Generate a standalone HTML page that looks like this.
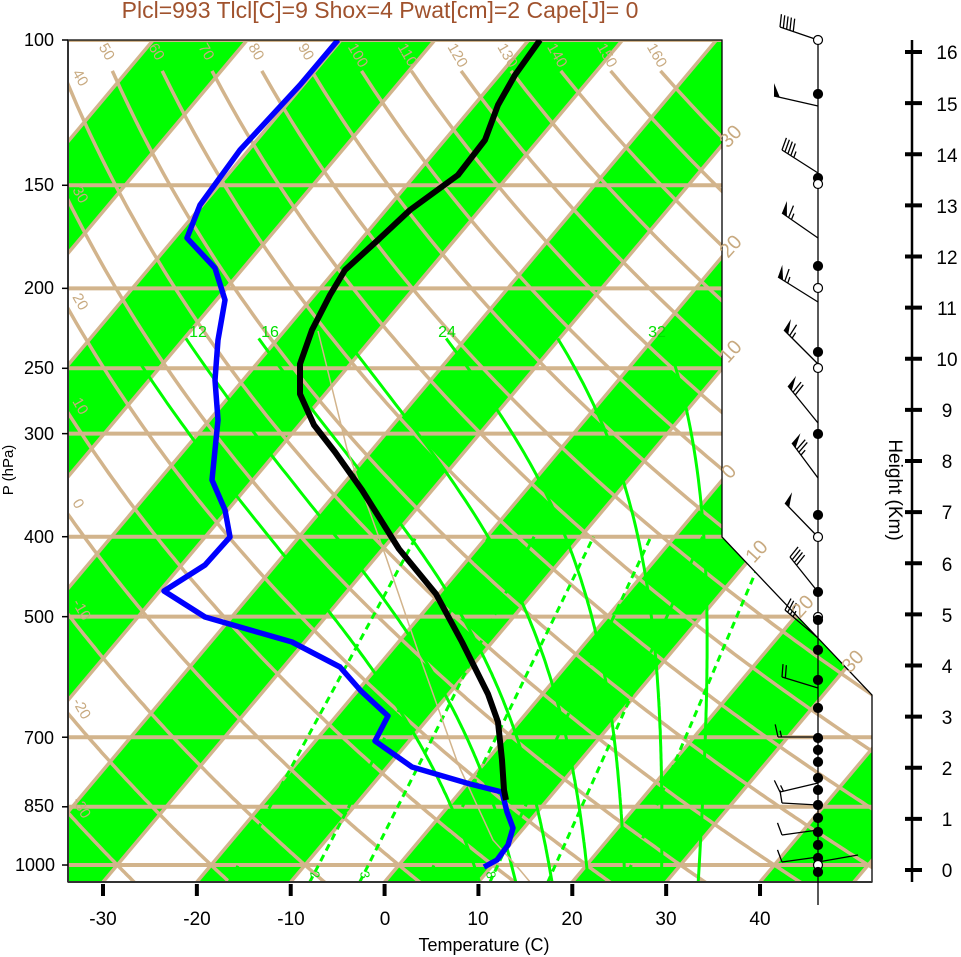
<!DOCTYPE html>
<html><head><meta charset="utf-8"><style>body{margin:0;background:#fff}svg{display:block;font-family:"Liberation Sans",sans-serif}</style></head>
<body>
<svg id="s" width="961" height="957" xmlns="http://www.w3.org/2000/svg">
<defs><clipPath id="c"><polygon points="68,40 722,40 722,537 872,695 872,882 68,882"/></clipPath></defs>
<rect width="961" height="957" fill="#fff"/>
<g id="bg" clip-path="url(#c)"></g>
<g id="fg" clip-path="url(#c)"></g>
<polygon points="68,40 722,40 722,537 872,695 872,882 68,882" fill="none" stroke="#000" stroke-width="1.3"/>
<line x1="68" y1="40" x2="68" y2="882" stroke="#333" stroke-width="2"/>
<line x1="68" y1="882" x2="872" y2="882" stroke="#333" stroke-width="2"/>
<g id="ticks"></g>
<g id="wind"></g>
<text x="380" y="18" text-anchor="middle" font-size="23" fill="#a0522d">Plcl=993 Tlcl[C]=9 Shox=4 Pwat[cm]=2 Cape[J]= 0</text>
<g font-size="18" text-anchor="end" fill="#000">
<text x="54" y="46">100</text><text x="54" y="191">150</text><text x="54" y="294">200</text><text x="54" y="374">250</text><text x="54" y="440">300</text><text x="54" y="543">400</text><text x="54" y="623">500</text><text x="54" y="744">700</text><text x="54" y="812">850</text><text x="55" y="871">1000</text>
</g>
<text transform="translate(13,470) rotate(-90)" text-anchor="middle" font-size="15">P (hPa)</text>
<g font-size="19" text-anchor="middle">
<text x="103" y="925">-30</text><text x="197" y="925">-20</text><text x="291" y="925">-10</text><text x="385" y="925">0</text><text x="478" y="925">10</text><text x="572" y="925">20</text><text x="666" y="925">30</text><text x="760" y="925">40</text>
</g>
<text x="484" y="951" text-anchor="middle" font-size="18">Temperature (C)</text>
<text transform="translate(889,490) rotate(90)" text-anchor="middle" font-size="19">Height (Km)</text>
<g font-size="19" text-anchor="middle">
<text x="947" y="877">0</text><text x="947" y="826">1</text><text x="947" y="775">2</text><text x="947" y="724">3</text><text x="947" y="673">4</text><text x="947" y="622">5</text><text x="947" y="571">6</text><text x="947" y="519">7</text><text x="947" y="468">8</text><text x="947" y="417">9</text><text x="947" y="366">10</text><text x="947" y="315">11</text><text x="947" y="264">12</text><text x="947" y="213">13</text><text x="947" y="162">14</text><text x="947" y="111">15</text><text x="947" y="59">16</text>
</g>
<g id="tlab" font-size="15" fill="#c8aa80">
<text id="d-30">-30</text><text id="d-20">-20</text><text id="d-10">-10</text><text id="d0">0</text><text id="d10">10</text><text id="d20">20</text><text id="d30">30</text><text id="d40">40</text><text id="d50">50</text><text id="d60">60</text><text id="d70">70</text><text id="d80">80</text><text id="d90">90</text><text id="d100">100</text><text id="d110">110</text><text id="d120">120</text><text id="d130">130</text><text id="d140">140</text><text id="d150">150</text><text id="d160">160</text>
</g>
<g font-size="20" fill="#c8aa80">
<text transform="translate(728,149) rotate(-48)">30</text>
<text transform="translate(728,259) rotate(-48)">20</text>
<text transform="translate(728,364) rotate(-48)">10</text>
<text transform="translate(730,480) rotate(-48)">0</text>
<text transform="translate(754,564) rotate(-48)">10</text>
<text transform="translate(800,619) rotate(-48)">20</text>
<text transform="translate(850,674) rotate(-48)">30</text>
</g>
<g font-size="16" fill="#00e000" text-anchor="middle">
<text x="198" y="337">12</text><text x="270" y="337">16</text><text x="447" y="337">24</text><text x="657" y="337">32</text>
</g>
<g font-size="13" fill="#00e000">
<text transform="translate(310,872) rotate(80)">2</text>
<text transform="translate(360,872) rotate(80)">3</text>
<text transform="translate(486,872) rotate(80)">8</text>
</g>
</svg>
<script>
var NS="http://www.w3.org/2000/svg";
var Y=function(p){return 40+358.3*Math.log(p/100);};
var S=0.84;
var XB=function(T,y){return 384.6+9.386*T+S*(882-y);};
var X=function(T,p){return XB(T,Y(p));};
function add(g,tag,a){var e=document.createElementNS(NS,tag);for(var k in a)e.setAttribute(k,a[k]);g.appendChild(e);return e;}
function pth(pts){return 'M'+pts.map(function(a){return a[0].toFixed(1)+','+a[1].toFixed(1);}).join('L');}
var bg=document.getElementById('bg'),fg=document.getElementById('fg');
var TAN="#d2b48c",GR="#00ff00";
for(var T=-180;T<=60;T+=20){
 add(bg,'polygon',{points:[XB(T,882)+',882',XB(T+10,882)+',882',XB(T+10,40)+',40',XB(T,40)+',40'].join(' '),fill:GR});
}
for(var T=-180;T<=70;T+=10){add(bg,'line',{x1:XB(T,882),y1:882,x2:XB(T,40),y2:40,stroke:TAN,'stroke-width':3.5});}
[100,150,200,250,300,400,500,700,850,1000].forEach(function(p){add(bg,'line',{x1:68,y1:Y(p),x2:872,y2:Y(p),stroke:TAN,'stroke-width':4});
 add(document.getElementById('ticks'),'line',{x1:62,y1:Y(p),x2:68,y2:Y(p),stroke:'#000','stroke-width':1.5});});
function Td(th,p){return (th+273.15)*Math.pow(p/1000,0.2857)-273.15;}
for(var th=-30;th<=160;th+=10){
 var pts=[];for(var p=1050;p>=109;p-=5)pts.push([X(Td(th,p),p),Y(p)]);
 pts.push([X(Td(th,109),109),Y(109)]);
 add(bg,'path',{d:pth(pts),fill:'none',stroke:TAN,'stroke-width':3.5});
 var lab=document.getElementById('d'+th);
 if(th>=50){var x=X(Td(th,109),109),y=Y(109);lab.setAttribute('transform','translate('+(x-14)+','+(y-24)+') rotate(60)');}
 else{var yy=882;for(var p=1050;p>=109;p-=1){if(X(Td(th,p),p)<70){yy=Y(p);break;}}
  lab.setAttribute('transform','translate(72,'+(yy-14)+') rotate(60)');}
}
function es(Tc){return 6.112*Math.exp(17.67*Tc/(Tc+243.5));}
function dTdp(T,p){var e=es(T-273.15),rs=0.622*e/(p-e);return (287*T+2.5e6*rs)/(p*(1004+2.5e6*2.5e6*rs*0.622/(287*T*T)));}
for(var tw=8;tw<=32;tw+=4){
 var T=tw+273.15,p=1000,up=[];
 var T2=T;for(var q=1000;q<1050;q+=1){T2+=dTdp(T2,q)*1;}
 up.push([X(T2-273.15,1050),Y(1050)]);
 while(p>=230){up.push([X(T-273.15,p),Y(p)]);T+=dTdp(T,p)*(-1);p-=1;}
 add(fg,'path',{d:pth(up.filter(function(a,i){return i%5==0||i==up.length-1;})),fill:'none',stroke:GR,'stroke-width':3});
}
[1,2,3,5,8,12,20].forEach(function(w){
 function Tw(p){var e=w*p/(622+w),l=Math.log(e/6.112);return 243.5*l/(17.67-l);}
 add(fg,'line',{x1:X(Tw(1050),1050),y1:Y(1050),x2:X(Tw(400),400),y2:Y(400),stroke:GR,'stroke-width':3,'stroke-dasharray':'7,5'});
});
add(fg,'path',{d:pth([[318,331],[347,449],[386,557],[421,660],[458,764],[493,840],[520,870],[530,882]]),fill:'none',stroke:TAN,'stroke-width':1.5});
var td=[[338,40],[300,85],[240,150],[200,205],[187,238],[215,268],[225,300],[218,340],[215,380],[218,420],[212,480],[225,510],[230,537],[205,565],[164,591],[205,617],[292,642],[340,667],[361,691],[388,716],[375,741],[412,767],[470,784],[502,792],[507,812],[513,828],[508,845],[497,860],[484,867]];
add(fg,'path',{d:pth(td),fill:'none',stroke:'#0000ff','stroke-width':5.5,'stroke-linejoin':'round'});
var tt=[[540,40],[515,75],[498,105],[485,140],[458,175],[410,210],[378,240],[345,270],[330,295],[312,330],[300,364],[300,394],[314,425],[335,452],[362,490],[399,549],[436,594],[462,642],[488,694],[498,722],[502,760],[504,790],[506,800]];
add(fg,'path',{d:pth(tt),fill:'none',stroke:'#000','stroke-width':6,'stroke-linejoin':'round'});
var tk=document.getElementById('ticks');
add(tk,'line',{x1:912,y1:40,x2:912,y2:882,stroke:'#000','stroke-width':2.5});
for(var k=0;k<=16;k++){var y=870-51.125*k;add(tk,'line',{x1:905,y1:y,x2:922,y2:y,stroke:'#000','stroke-width':4});}
for(var k=0;k<8;k++){var x=103+93.86*k;add(tk,'line',{x1:x,y1:884,x2:x,y2:896,stroke:'#000','stroke-width':4});}
var wd=document.getElementById('wind');
add(wd,'line',{x1:818,y1:40,x2:818,y2:905,stroke:'#000','stroke-width':1.3});
function barb(x0,y0,x1,y1,fl,fu,ha){
 add(wd,'line',{x1:x0,y1:y0,x2:x1,y2:y1,stroke:'#000','stroke-width':1.3});
 var L=Math.hypot(x1-x0,y1-y0),ux=(x1-x0)/L,uy=(y1-y0)/L;
 var nx=-uy,ny=ux; if(ny>0){nx=-nx;ny=-ny;}
 var fx=14*(nx*0.9+ux*0.2),fy=14*(ny*0.9+uy*0.2);
 var px=x1,py=y1;
 for(var i=0;i<fl;i++){add(wd,'polygon',{points:px+','+py+' '+(px+fx)+','+(py+fy)+' '+(px-ux*6)+','+(py-uy*6),fill:'#000'});px-=ux*8;py-=uy*8;}
 for(var i=0;i<fu;i++){add(wd,'line',{x1:px,y1:py,x2:px+fx,y2:py+fy,stroke:'#000','stroke-width':1.3});px-=ux*3.5;py-=uy*3.5;}
 for(var i=0;i<ha;i++){add(wd,'line',{x1:px,y1:py,x2:px+fx/2,y2:py+fy/2,stroke:'#000','stroke-width':1.3});}
}
barb(818,40,780,27,0,5,0);barb(818,106,774,96,1,0,0);barb(818,173,782,150,0,4,1);
barb(818,238,782,213,1,1,1);barb(818,302,778,277,1,1,1);barb(818,364,784,330,1,1,1);
barb(818,423,788,386,1,2,0);barb(818,478,792,443,1,2,1);barb(818,537,785,503,1,0,0);
barb(818,592,790,557,0,4,0);barb(818,638,785,610,0,3,1);barb(818,688,782,677,0,2,0);
barb(818,737,778,737,0,1,1);barb(818,783,780,792,0,1,1);barb(818,805,782,803,0,1,0);
barb(818,830,782,835,0,1,0);barb(818,857,782,862,0,1,0);
add(wd,'line',{x1:818,y1:862,x2:858,y2:855,stroke:'#000','stroke-width':1.3});
var dots=[[40,0],[94,1],[178,1],[184,0],[266,1],[288,0],[352,1],[368,0],[434,1],[515,1],[537,0],[592,1],[617,0],[620,1],[650,1],[680,1],[708,1],[738,1],[750,1],[762,1],[778,1],[790,1],[805,1],[818,1],[832,1],[845,1],[858,1],[865,0],[872,1]];
dots.forEach(function(d){add(wd,'circle',{cx:818,cy:d[0],r:4.5,fill:d[1]?'#000':'#fff',stroke:'#000','stroke-width':1.2});});
</script>
</body></html>
